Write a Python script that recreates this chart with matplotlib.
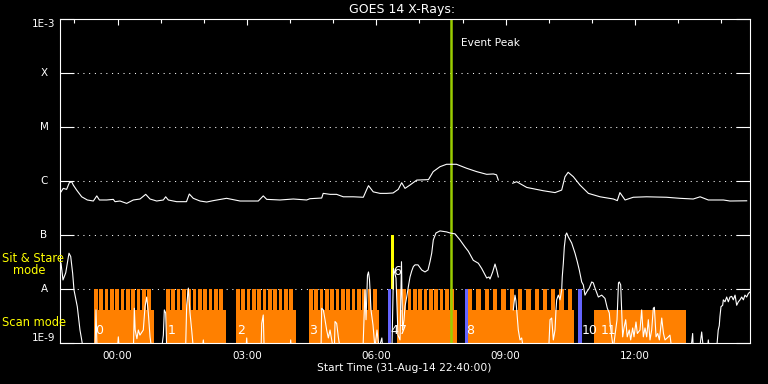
import numpy as np
import matplotlib
matplotlib.use("Agg")
import matplotlib.pyplot as plt
from matplotlib.ticker import FixedLocator, FuncFormatter, NullLocator

# ---------------- data (time in hours from 2014-09-01 00:00, flux in W/m^2) ----------------
x_start, x_end = -4/3, 14 + 2/3          # 22:40 .. 14:40

long_time = [-1.31, -1.257, -1.18, -1.117, -1.063, -1.025, -0.948, -0.83, -0.70, -0.56, -0.48, -0.42,
             -0.25, -0.097, -0.058, 0.058, 0.213, 0.367, 0.522, 0.654, 0.754, 0.908, 1.063, 1.117,
             1.178, 1.372, 1.60, 1.665, 1.757, 1.913, 2.068, 2.222, 2.53, 2.84, 3.15, 3.265, 3.38,
             3.46, 3.768, 4.077, 4.387, 4.46, 4.735, 4.77, 4.93, 5.08, 5.236, 5.47, 5.70, 5.78, 5.82,
             5.93, 6.087, 6.24, 6.39, 6.51, 6.59, 6.667, 6.78, 6.94, 7.21, 7.32, 7.478, 7.63, 7.86,
             8.097, 8.33, 8.56, 8.716, 8.79, 8.83, 9.0, 9.164, 9.256, 9.49, 9.874, 10.145, 10.3,
             10.377, 10.45, 10.57, 10.725, 10.92, 11.19, 11.5, 11.59, 11.65, 11.77, 11.96, 12.27,
             12.73, 13.04, 13.35, 13.51, 13.7, 14.05, 14.2, 14.59]
long_flux = [6.3e-7, 7.3e-7, 7.0e-7, 9.3e-7, 9.7e-7, 8.4e-7, 6.8e-7, 5.1e-7, 4.45e-7, 4.26e-7, 5.3e-7, 4.45e-7,
             4.45e-7, 4.57e-7, 4.14e-7, 4.26e-7, 3.85e-7, 4.45e-7, 4.64e-7, 5.66e-7, 4.64e-7, 4.26e-7, 4.45e-7, 5.1e-7,
             4.45e-7, 4.14e-7, 4.14e-7, 5.74e-7, 4.78e-7, 4.26e-7, 4.08e-7, 4.33e-7, 4.78e-7, 4.26e-7, 4.26e-7, 4.26e-7, 5.3e-7,
             4.57e-7, 4.45e-7, 4.64e-7, 4.45e-7, 4.7e-7, 4.84e-7, 5.9e-7, 5.66e-7, 5.66e-7, 5.1e-7, 5.1e-7, 5.0e-7, 7.0e-7, 8.2e-7,
             6.3e-7, 5.9e-7, 5.9e-7, 6.0e-7, 7.0e-7, 9.3e-7, 7.3e-7, 8.4e-7, 1.04e-6, 1.06e-6, 1.49e-6, 1.84e-6, 2.04e-6, 2.04e-6,
             1.72e-6, 1.49e-6, 1.33e-6, 1.35e-6, 1.3e-6, 1.04e-6, np.nan, 9.1e-7, 9.7e-7, 7.6e-7, 6.6e-7, 6.1e-7, 6.8e-7,
             1.2e-6, 1.45e-6, 1.2e-6, 8.4e-7, 5.9e-7, 5.1e-7, 4.64e-7, 4.33e-7, 6.1e-7, 4.45e-7, 5.0e-7, 5.1e-7,
             5.0e-7, 4.78e-7, 4.64e-7, 5.1e-7, 4.45e-7, 4.45e-7, 4.26e-7, 4.3e-7]

short_time = [-1.31, -1.264, -1.20, -1.15, -1.125, -1.085, -1.04, -1.009, -0.932, -0.87, -0.83, -0.80,
              -0.52, -0.499, -0.475, 0.0, 0.019, 0.04,
              0.37, 0.39, 0.41, 0.45, 0.483, 0.52, 0.598, 0.638, 0.677, 0.714, 0.754, 0.79,
              1.025, 1.063, 1.086, 1.117, 1.14, 1.58, 1.604, 1.643, 1.681, 1.72, 1.758,
              1.97, 1.99, 2.01, 2.98, 2.996, 3.01, 3.33, 3.344, 3.38, 3.40, 4.0, 4.016, 4.03,
              4.72, 4.735, 4.773, 4.812, 4.85, 4.889, 4.928, 4.967, 5.00, 5.03, 5.044, 5.083, 5.12, 5.16,
              5.693, 5.739, 5.763, 5.797, 5.82, 5.843, 5.878, 5.925, 5.97, 6.017, 6.064, 6.13, 6.15,
              6.365, 6.40, 6.458, 6.504, 6.551, 6.585, 6.61, 6.644, 6.667, 6.706, 6.744, 6.783, 6.822,
              6.86, 6.899, 6.968, 7.054, 7.13, 7.2, 7.246, 7.286, 7.323, 7.385, 7.478, 7.633, 7.71,
              7.826, 7.942, 8.058, 8.135, 8.25, 8.367, 8.445, 8.561, 8.614, 8.638, 8.70, 8.754, 8.793,
              8.83, 9.0,
              9.178, 9.217, 9.24, 9.27, 9.294, 9.333, 9.372, 9.41,
              10.0, 10.03, 10.068, 10.106, 10.145, 10.168, 10.184, 10.222, 10.261, 10.30, 10.313, 10.338,
              10.361, 10.393, 10.416, 10.454, 10.532, 10.609, 10.662, 10.708, 10.764, 10.802, 10.84, 10.88,
              10.94, 10.996, 11.033, 11.072, 11.15, 11.228, 11.304, 11.358, 11.404, 11.42, 11.46, 11.497,
              11.583, 11.617, 11.636, 11.668, 11.69, 11.714, 11.745, 11.784, 11.82, 11.867, 11.9, 11.946,
              11.977, 12.023, 12.054, 12.116, 12.155, 12.193, 12.232, 12.271, 12.309, 12.348, 12.387,
              12.425, 12.449, 12.488, 12.527, 12.565, 12.62, 12.66, 12.696, 12.774, 12.81, 12.85,
              13.3, 13.337, 13.35, 13.5, 13.546, 13.584, 13.68, 13.7, 13.72, 13.894, 13.93, 13.954,
              13.97, 13.994, 14.033, 14.048, 14.087, 14.126, 14.164, 14.203, 14.242, 14.28, 14.32,
              14.358, 14.397, 14.435, 14.474, 14.513, 14.55, 14.59, 14.63, 14.667]
short_flux = [3.0e-8, 1.47e-8, 2.0e-8, 3.5e-8, 4.6e-8, 4.0e-8, 1.95e-8, 9.6e-9, 4.7e-9, 1.74e-9, 1.14e-9, 8e-10,
              8e-10, 4.1e-9, 8e-10, 8e-10, 1.3e-9, 8e-10,
              8e-10, 4.4e-9, 1.74e-9, 1.2e-9, 1.74e-9, 1.4e-9, 1.74e-9, 4.7e-9, 7.1e-9, 3.6e-9, 1.3e-9, 8e-10,
              8e-10, 1.4e-9, 4.1e-9, 3.6e-9, 8e-10, 8e-10, 5.0e-9, 1.04e-8, 3.6e-9, 1.74e-9, 8e-10,
              8e-10, 1.14e-9, 8e-10, 8e-10, 1.24e-9, 8e-10, 8e-10, 2.3e-9, 3.3e-9, 8e-10, 8e-10, 1.14e-9, 8e-10,
              8e-10, 4.4e-9, 4.1e-9, 2.7e-9, 1.74e-9, 1.24e-9, 1.74e-9, 1.14e-9, 8e-10, 8e-10, 2.5e-9, 2.3e-9, 1.3e-9, 8e-10,
              8e-10, 9.6e-9, 2.7e-9, 1.8e-8, 2.07e-8, 1.5e-8, 4.1e-9, 2.15e-9, 8e-10, 1.74e-9, 8e-10, 1.24e-9, 8e-10,
              8e-10, 2.4e-8, 1.6e-8, 1.4e-9, 1.14e-9, 3.2e-8, 1.74e-9, 2.7e-9, 4.8e-9, 7.1e-9, 1.1e-8, 1.67e-8, 2.15e-8,
              2.6e-8, 2.8e-8, 2.8e-8, 2.25e-8, 2.07e-8, 2.25e-8, 3.2e-8, 4.6e-8, 8.1e-8, 1.09e-7, 1.19e-7, 1.14e-7, 1.09e-7,
              1.05e-7, 8.1e-8, 6.0e-8, 5.0e-8, 3.4e-8, 3.0e-8, 2.4e-8, 1.6e-8, 1.67e-8, 1.53e-8, 2.07e-8, 2.9e-8, 2.25e-8,
              1.67e-8, np.nan,
              4.1e-9, 7.7e-9, 6.0e-9, 3.0e-9, 1.74e-9, 1.14e-9, 1.24e-9, 8e-10,
              8e-10, 2.7e-9, 2.9e-9, 1.14e-9, 1.74e-9, 4.1e-9, 6.3e-9, 7.7e-9, 6.3e-9, 9.6e-9, 1.67e-8, 3.0e-8,
              6.0e-8, 1.0e-7, 1.09e-7, 9.2e-8, 7.1e-8, 4.6e-8, 3.2e-8, 2.25e-8, 1.35e-8, 1.19e-8, 7.7e-9, 8.8e-9,
              1.04e-8, 1.35e-8, 1.3e-8, 1.04e-8, 7.1e-9, 7.7e-9, 6.7e-9, 4.4e-9, 3.6e-9, 2.45e-9, 1.3e-9, 8e-10,
              2.7e-9, 1.3e-8, 1.35e-8, 1.19e-8, 4.1e-9, 1.3e-9, 1.9e-9, 2.7e-9, 1.3e-9, 1.74e-9, 1.14e-9, 1.9e-9,
              1.3e-9, 2.45e-9, 1.5e-9, 1.74e-9, 4.1e-9, 1.3e-9, 1.9e-9, 1.3e-9, 2.7e-9, 1.14e-9, 1.74e-9,
              4.4e-9, 4.6e-9, 1.3e-9, 1.5e-9, 1.14e-9, 2.9e-9, 1.5e-9, 1.14e-9, 1.3e-9, 1.4e-9, 8e-10,
              8e-10, 1.5e-9, 8e-10, 8e-10, 1.6e-9, 8e-10, 8e-10, 1.14e-9, 8e-10, 8e-10, 1.74e-9, 2.1e-9,
              3.1e-9, 4.7e-9, 5.0e-9, 6.3e-9, 5.8e-9, 7.1e-9, 5.8e-9, 7.1e-9, 7.3e-9, 6.3e-9, 7.7e-9,
              5.0e-9, 5.8e-9, 6.3e-9, 7.1e-9, 6.3e-9, 7.7e-9, 7.1e-9, 8.3e-9, 8.8e-9]

# IRIS observation segments (scan mode): start/end hours and raster-step cadence (0 = none)
obs_start = [-0.545, 1.125, 2.748, 4.44, 6.48, 8.13, 11.05]
obs_end = [0.846, 2.516, 4.13, 6.064, 7.87, 10.585, 13.18]
obs_cadence = [0.1236, 0.1236, 0.1236, 0.1236, 0.1236, 0.1925, 0.0]
obs_step_dur = [0.084, 0.084, 0.084, 0.084, 0.084, 0.10, 0.0]
scan_top_flux = 4.1e-9

# calibration / other intervals
blue_start = [6.272, 8.058, 10.678]
blue_end = [6.342, 8.128, 10.771]
stare_start = [6.342]
stare_end = [6.40]

obs_label_text = ["0", "1", "2", "3", "4", "7", "6", "8", "10", "11"]
obs_label_time = [-0.522, 1.171, 2.771, 4.44, 6.319, 6.516, 6.388, 8.081, 10.771, 11.2]
obs_label_flux = [1.74e-9, 1.74e-9, 1.74e-9, 1.74e-9, 1.74e-9, 1.74e-9, 2.07e-8, 1.74e-9, 1.74e-9, 1.74e-9]

peak_time = 7.726
ytick_vals = [1e-9, 1e-8, 1e-7, 1e-6, 1e-5, 1e-4, 1e-3]
ytick_labels = ["1E-9", "A", "B", "C", "M", "X", "1E-3"]
class_levels = [1e-8, 1e-7, 1e-6, 1e-5, 1e-4]
xtick_major = [0, 3, 6, 9, 12]

# ---------------- plot ----------------
ORANGE = "#ff8000"
BLUE = "#6464ff"
YELLOW = "#ffff00"
GREEN = "#9acd00"
W = 768
H = 384
fig = plt.figure(figsize=(7.68, 3.84), dpi=100, facecolor="black")
ax = fig.add_axes([60 / W, 1 - 343 / H, 690 / W, 324 / H], facecolor="black")
ax.set_yscale("log")
ax.set_xlim(x_start, x_end)
ax.set_ylim(1e-9, 1e-3)

for lv in class_levels:
    ax.axhline(lv, color="white", lw=0.75, ls=(0, (1, 4.5)), zorder=0.4)

bottom = 1e-9
for s, e, cad, dur in zip(obs_start, obs_end, obs_cadence, obs_step_dur):
    ax.broken_barh([(s, e - s)], (bottom, scan_top_flux - bottom), facecolor=ORANGE, edgecolor="none", zorder=1)
    if cad > 0:
        steps = np.arange(s, e - dur * 0.5, cad)
        ranges = [(t, min(dur, e - t)) for t in steps]
        ax.broken_barh(ranges, (bottom, 1e-8 - bottom), facecolor=ORANGE, edgecolor="none", zorder=1)

ax.broken_barh([(s, e - s) for s, e in zip(blue_start, blue_end)], (bottom, 1e-8 - bottom),
               facecolor=BLUE, edgecolor="none", zorder=1.2)
ax.broken_barh([(s, e - s) for s, e in zip(stare_start, stare_end)], (1e-8, 1e-7 - 1e-8),
               facecolor=YELLOW, edgecolor="none", zorder=1.2)

ax.axvline(peak_time, color=GREEN, lw=1.8, zorder=2.5)
ax.annotate("Event Peak", xy=(peak_time, 3.6e-4), xytext=(7.5, 0), textcoords="offset points",
            color="white", fontsize=7.6, va="center", ha="left")

ax.plot(long_time, long_flux, color="white", lw=0.8, zorder=3)
ax.plot(short_time, short_flux, color="white", lw=0.8, zorder=3)

for t, x, y in zip(obs_label_text, obs_label_time, obs_label_flux):
    ax.text(x, y, t, color="white", fontsize=9, ha="left", va="center", zorder=4)

# axes styling
for sp in ax.spines.values():
    sp.set_color("white")
    sp.set_linewidth(0.8)
    sp.set_zorder(3.5)
ax.set_axisbelow(True)
ax.yaxis.set_major_locator(FixedLocator(ytick_vals))
ax.yaxis.set_minor_locator(NullLocator())
ax.set_yticklabels(ytick_labels)
ax.tick_params(axis="y", which="major", left=True, right=True, direction="in", length=10,
               width=0.8, color="white", labelcolor="white", labelsize=7.5, pad=11.5)
for lab in ax.get_yticklabels():
    lab.set_ha("center")
    if lab.get_text() == "1E-3":
        lab.set_va("top")
    elif lab.get_text() == "1E-9":
        lab.set_va("bottom")
    else:
        lab.set_va("center")

ax.xaxis.set_major_locator(FixedLocator(xtick_major))
ax.xaxis.set_minor_locator(FixedLocator(list(range(-1, 15))))
ax.xaxis.set_major_formatter(FuncFormatter(lambda v, p: f"{int(round(v)) % 24:02d}:00"))
ax.tick_params(axis="x", which="both", bottom=False, top=True, direction="in",
               color="white", labelcolor="white", width=0.8, labelsize=7.5, pad=6)
ax.tick_params(axis="x", which="major", length=4.3)
ax.tick_params(axis="x", which="minor", length=2.9)

fig.text(402 / W, 1 - 10 / H, "GOES 14 X-Rays:", color="white", fontsize=9, ha="center", va="center")
fig.text(404 / W, 1 - 368 / H, "Start Time (31-Aug-14 22:40:00)", color="white", fontsize=7.7,
         ha="center", va="center")
fig.text(2 / W, 1 - 259 / H, "Sit & Stare", color=YELLOW, fontsize=8.3, ha="left", va="center")
fig.text(13 / W, 1 - 271 / H, "mode", color=YELLOW, fontsize=8.3, ha="left", va="center")
fig.text(2 / W, 1 - 323 / H, "Scan mode", color=YELLOW, fontsize=8.3, ha="left", va="center")

fig.savefig("out.png", dpi=100, facecolor="black")
